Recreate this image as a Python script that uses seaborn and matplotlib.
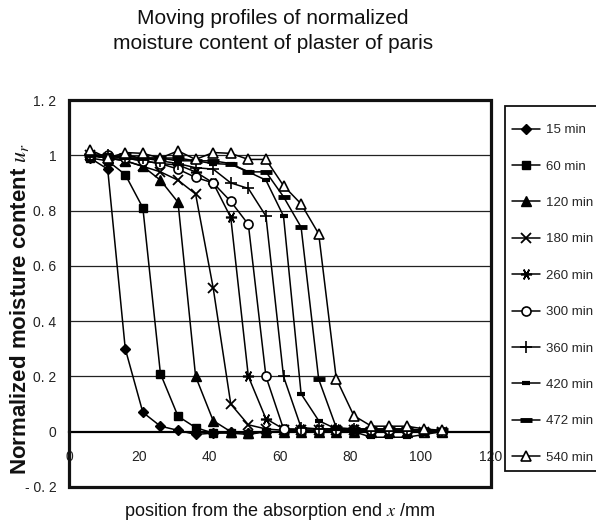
import numpy as np
import pandas as pd
import matplotlib
matplotlib.use("Agg")
import matplotlib.pyplot as plt
from matplotlib.patches import Rectangle
import seaborn as sns

# ---------------- data ----------------
positions = [6, 11, 16, 21, 26, 31, 36, 41, 46, 51, 56, 61, 66, 71, 76, 81, 86, 91, 96, 101, 106]

series_names = ["15 min", "60 min", "120 min", "180 min", "260 min",
                "300 min", "360 min", "420 min", "472 min", "540 min"]

u_15 = [0.99, 0.95, 0.30, 0.07, 0.02, 0.005, -0.01, -0.005, 0.0, -0.005, 0.0,
        0.0, 0.0, 0.0, 0.0, 0.0, 0.0, 0.0, 0.0, 0.0, 0.0]
u_60 = [0.99, 0.98, 0.93, 0.81, 0.21, 0.056, 0.015, -0.005, -0.005, -0.01, 0.0,
        0.0, 0.0, 0.0, 0.0, 0.0, 0.0, 0.0, 0.0, 0.0, 0.0]
u_120 = [1.0, 0.99, 0.98, 0.96, 0.91, 0.83, 0.20, 0.04, 0.0, -0.005, 0.0,
         0.0, 0.0, 0.0, 0.0, 0.0, 0.0, 0.0, 0.0, 0.0, 0.0]
u_180 = [1.0, 0.99, 0.98, 0.96, 0.94, 0.91, 0.86, 0.52, 0.10, 0.025, 0.01,
         0.005, 0.005, 0.005, 0.005, 0.005, 0.0, 0.0, 0.0, 0.0, 0.0]
u_260 = [1.0, 0.99, 0.99, 0.98, 0.97, 0.965, 0.94, 0.90, 0.775, 0.20, 0.047,
         0.01, 0.01, 0.01, 0.01, 0.01, 0.005, 0.005, 0.005, 0.0, 0.0]
u_300 = [1.0, 1.0, 0.99, 0.98, 0.97, 0.95, 0.92, 0.90, 0.833, 0.75, 0.20,
         0.01, 0.005, 0.005, 0.005, 0.005, 0.005, 0.005, 0.005, 0.0, 0.0]
u_360 = [1.0, 1.0, 0.99, 0.99, 0.98, 0.97, 0.955, 0.95, 0.90, 0.88, 0.78,
         0.20, 0.015, 0.01, 0.01, 0.01, 0.01, 0.01, 0.01, 0.005, 0.0]
u_420 = [1.0, 1.0, 0.99, 0.99, 0.99, 0.98, 0.98, 0.97, 0.967, 0.94, 0.91,
         0.78, 0.137, 0.04, 0.01, 0.0, -0.02, -0.02, -0.02, -0.01, 0.0]
u_472 = [1.0, 0.99, 1.0, 0.99, 0.99, 0.99, 0.98, 0.98, 0.97, 0.94, 0.94,
         0.85, 0.74, 0.19, 0.015, 0.01, 0.01, 0.01, 0.01, 0.005, 0.005]
u_540 = [1.02, 0.99, 1.01, 1.007, 0.99, 1.016, 0.985, 1.01, 1.007, 0.985, 0.985,
         0.89, 0.824, 0.716, 0.192, 0.058, 0.02, 0.02, 0.02, 0.01, 0.005]

all_values = [u_15, u_60, u_120, u_180, u_260, u_300, u_360, u_420, u_472, u_540]

x_ticks = [0, 20, 40, 60, 80, 100, 120]
x_tick_labels = ["0", "20", "40", "60", "80", "100", "120"]
y_ticks = [-0.2, 0.0, 0.2, 0.4, 0.6, 0.8, 1.0, 1.2]
y_tick_labels = ["- 0. 2", "0", "0. 2", "0. 4", "0. 6", "0. 8", "1", "1. 2"]

title_text = "Moving profiles of normalized\nmoisture content of plaster of paris"
x_label = "position from the absorption end $\\mathit{x}$ /mm"
y_label = "Normalized moisture content $\\mathit{u_r}$"

# ---------------- styles ----------------
marker_styles = {
    "15 min":  dict(marker="D", ms=5.0, mfc="black", mew=1.0),
    "60 min":  dict(marker="s", ms=5.5, mfc="black", mew=1.0),
    "120 min": dict(marker="^", ms=6.5, mfc="black", mew=1.0),
    "180 min": dict(marker="x", ms=7.0, mfc="black", mew=1.3),
    "260 min": dict(marker=(6, 2, 90), ms=8.0, mfc="black", mew=1.2),
    "300 min": dict(marker="o", ms=6.5, mfc="white", mew=1.2),
    "360 min": dict(marker="+", ms=8.5, mfc="black", mew=1.2),
    "420 min": dict(marker="_", ms=6.0, mfc="black", mew=3.0),
    "472 min": dict(marker="_", ms=9.0, mfc="black", mew=3.5),
    "540 min": dict(marker="^", ms=7.0, mfc="white", mew=1.2),
}

df = pd.DataFrame({
    "x": np.tile(positions, len(series_names)),
    "u": np.concatenate(all_values),
    "series": np.repeat(series_names, len(positions)),
})

sns.set_theme(style="white")
plt.rcParams["font.family"] = ["Liberation Sans", "DejaVu Sans"]
plt.rcParams["mathtext.fontset"] = "stix"

fig = plt.figure(figsize=(5.96, 5.31), dpi=100)
fig.patch.set_facecolor("white")
ax = fig.add_axes([69 / 596, 1 - 487 / 531, 422 / 596, 387 / 531])
ax.set_facecolor("white")

for name in series_names:
    st = marker_styles[name]
    sub = df[df["series"] == name]
    sns.lineplot(data=sub, x="x", y="u", ax=ax, color="black", linewidth=1.1,
                 marker=st["marker"], markersize=st["ms"],
                 markerfacecolor=st["mfc"], markeredgecolor="black",
                 markeredgewidth=st["mew"], label=name, errorbar=None,
                 zorder=3)

ax.set_xlim(0, 120)
ax.set_ylim(-0.2, 1.2)

# grid lines
for yv in [0.2, 0.4, 0.6, 0.8, 1.0]:
    ax.axhline(yv, color="#222222", lw=0.9, zorder=1)

# x axis crossing at y = 0
for s in ["left", "right", "top"]:
    ax.spines[s].set_visible(False)
ax.spines["bottom"].set_position(("data", 0))
ax.spines["bottom"].set_linewidth(1.6)
ax.spines["bottom"].set_color("black")
ax.spines["bottom"].set_zorder(2)

ax.set_xticks(x_ticks)
ax.set_xticklabels(x_tick_labels)
ax.set_yticks(y_ticks)
ax.set_yticklabels(y_tick_labels)
ax.tick_params(axis="x", direction="in", length=4, width=1.0, color="black",
               pad=13, labelsize=10, labelcolor="#222222")
ax.tick_params(axis="y", length=0, pad=9, labelsize=10, labelcolor="#222222")

ax.add_patch(Rectangle((0, 0), 1, 1, transform=ax.transAxes, fill=False,
                       edgecolor="#111111", lw=2.3, zorder=5, clip_on=False))

ax.set_xlabel("")
ax.set_ylabel("")
fig.text(280 / 596, 1 - 512 / 531, x_label, ha="center", va="center",
         fontsize=13, color="#111111")
fig.text(20 / 596, 1 - 309 / 531, y_label, ha="center", va="center",
         rotation=90, fontsize=16, fontweight="bold", color="#111111")
fig.text(273 / 596, 1 - 31 / 531, title_text, ha="center", va="center",
         fontsize=15, color="#111111", linespacing=1.45)

# legend (frame drawn separately so that the inner padding can differ)
ax.add_patch(Rectangle((505 / 596, 1 - 471 / 531), 100 / 596, 365 / 531,
                       transform=fig.transFigure, fill=True,
                       facecolor="white", edgecolor="#111111",
                       lw=1.3, zorder=4, clip_on=False))
leg = ax.legend(loc="upper left", bbox_to_anchor=(512 / 596, 1 - 124 / 531),
                bbox_transform=fig.transFigure,
                borderaxespad=0, frameon=False,
                fontsize=9.5, labelspacing=1.83, handlelength=2.1,
                handletextpad=0.5, borderpad=0.0)
leg.set_zorder(6)

fig.savefig("out.png", dpi=100)
